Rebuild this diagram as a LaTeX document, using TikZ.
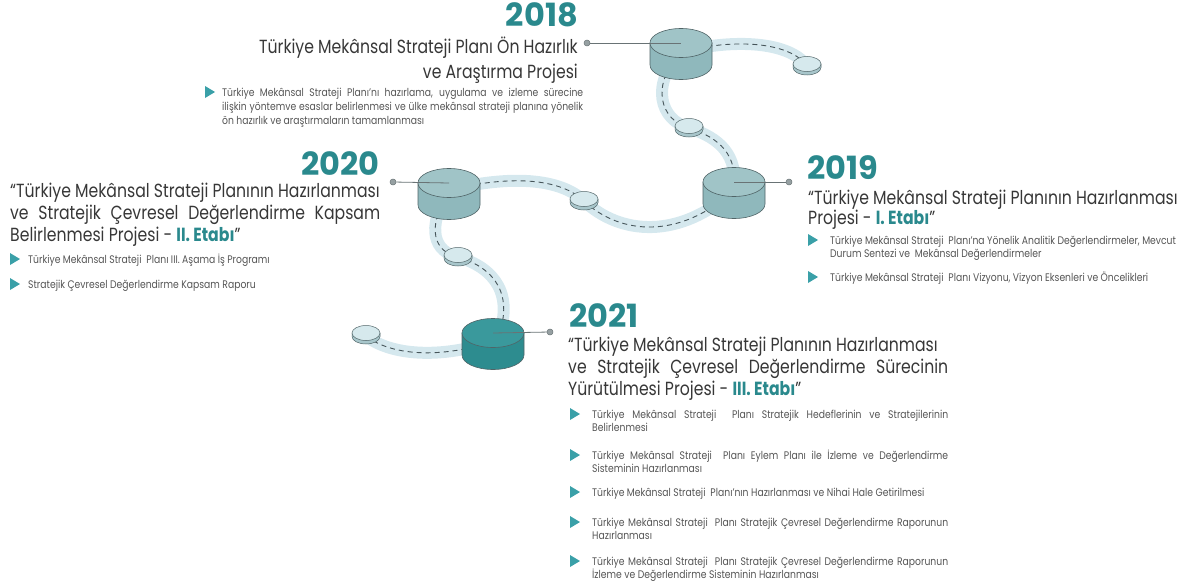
\documentclass[tikz,border=0pt]{standalone}
\usepackage{fontspec}
\setmainfont{Poppins}[FakeStretch=0.84]
\newfontfamily\titlefont{Poppins}[FakeStretch=0.825]
\newfontfamily\yearfont{Poppins}[FakeStretch=1.0]
\definecolor{tealtxt}{RGB}{42,137,141}
\definecolor{tric}{RGB}{58,160,168}
\definecolor{titlec}{RGB}{55,55,55}
\definecolor{bulc}{RGB}{85,85,85}
\definecolor{cyltop}{RGB}{160,196,199}
\definecolor{cylside}{RGB}{143,184,188}
\definecolor{cyltopd}{RGB}{58,153,156}
\definecolor{cylsided}{RGB}{45,140,143}
\definecolor{disctop}{RGB}{214,233,237}
\definecolor{discside}{RGB}{168,198,203}
\definecolor{cylline}{RGB}{80,100,103}
\definecolor{bandc}{RGB}{213,232,238}
\definecolor{dashcol}{RGB}{70,85,90}
\definecolor{connc}{RGB}{105,115,117}
\definecolor{dotc}{RGB}{150,160,162}
\newcommand\drawcyl[4]{%
  \filldraw[fill=#4, draw=cylline, line width=0.6pt] (#1-31,#2) -- (#1-31,#2+22)
    arc[start angle=180, end angle=360, x radius=31pt, y radius=14.5pt] -- (#1+31,#2) -- cycle;
  \filldraw[fill=#3, draw=cylline, line width=0.6pt] (#1,#2) ellipse [x radius=31pt, y radius=14.5pt];}
\newcommand\drawdisc[2]{%
  \filldraw[fill=discside, draw=cylline, line width=0.5pt] (#1-14,#2) -- (#1-14,#2+3.5)
    arc[start angle=180, end angle=360, x radius=14pt, y radius=7.5pt] -- (#1+14,#2) -- cycle;
  \filldraw[fill=disctop, draw=cylline, line width=0.5pt] (#1,#2) ellipse [x radius=14pt, y radius=7.5pt];}
\newcommand\btri[2]{\fill[tric] (#1,#2-6) -- (#1+10,#2) -- (#1,#2+6) -- cycle;}
\begin{document}
\begin{tikzpicture}[x=1pt,y=-1pt,
  band/.style={draw=bandc, line width=12pt, line cap=round},
  dashln/.style={draw=dashcol, line width=0.9pt, dash pattern=on 5pt off 4pt},
  conn/.style={draw=connc, line width=0.8pt},
  dotn/.style={circle, fill=dotc, draw=connc, line width=0.5pt, inner sep=0pt, minimum size=6pt},
  yr/.style={font=\yearfont\fontsize{32}{32}\selectfont\bfseries, text=tealtxt, inner sep=0pt},
  ttl/.style={font=\titlefont\fontsize{19}{19}\selectfont, text=titlec, inner sep=0pt},
  bul/.style={font=\fontsize{11}{11}\selectfont, text=bulc, inner sep=0pt},
  hl/.style={text=tealtxt}]
\useasboundingbox (0,0) rectangle (1193,586);
% anchor coordinates
\coordinate (t18) at (681,43);  \coordinate (k18) at (681,52);
\coordinate (t19) at (734,182); \coordinate (k19) at (734,190);
\coordinate (t20) at (449,183); \coordinate (k20) at (449,190);
\coordinate (t21) at (493,333); \coordinate (k21) at (497,340);
\coordinate (s1) at (807,66); \coordinate (s2) at (689,128);
\coordinate (s3) at (584,201); \coordinate (s4) at (458,257);
\coordinate (s5) at (366,336);
% bands
\foreach \st in {band,dashln}{
  \draw[\st] (k18) .. controls (735,38) and (790,42) .. (s1);
  \draw[\st] (k18) .. controls (650,85) and (660,120) .. (s2);
  \draw[\st] (s2) .. controls (720,138) and (738,155) .. (k19);
  \draw[\st] (k19) .. controls (680,240) and (620,235) .. (s3);
  \draw[\st] (s3) .. controls (560,178) and (510,175) .. (k20);
  \draw[\st] (k20) .. controls (425,230) and (435,252) .. (s4);
  \draw[\st] (s4) .. controls (495,268) and (515,295) .. (k21);
  \draw[\st] (s5) .. controls (390,355) and (440,360) .. (k21);
}
% discs
\drawdisc{807}{64}
\drawdisc{689}{126}
\drawdisc{584}{199}
\drawdisc{458}{255}
\drawdisc{366}{333}
% cylinders
\drawcyl{681}{43}{cyltop}{cylside}
\drawcyl{734}{182}{cyltop}{cylside}
\drawcyl{449}{183}{cyltop}{cylside}
\drawcyl{493}{333}{cyltopd}{cylsided}
% connectors
\node[dotn] (d18) at (587,43) {};
\node[dotn] (d19) at (789,182) {};
\node[dotn] (d20) at (393,182) {};
\node[dotn] (d21) at (550,332) {};
\draw[conn] (d18) -- (t18);
\draw[conn] (d19) -- (t19);
\draw[conn] (d20) -- (t20);
\draw[conn] (d21) -- (t21);
% ---- 2018
\node[yr, anchor=base east] (y18) at (578,27) {2018};
\node[ttl, anchor=base east] (a18) at (578,53) {Türkiye Mekânsal Strateji Planı Ön Hazırlık};
\node[ttl, anchor=base east] (b18) at (578,78) {ve Araştırma Projesi};
\btri{205}{92}
\node[bul, anchor=base west] (p18a) at (222,96) {\makebox[361pt][s]{Türkiye Mekânsal Strateji Planı’nı hazırlama, uygulama ve izleme sürecine}};
\node[bul, anchor=base west] (p18b) at (222,110) {\makebox[361pt][s]{ilişkin yöntemve esaslar belirlenmesi ve ülke mekânsal strateji planına yönelik}};
\node[bul, anchor=base west] (p18c) at (222,124) {ön hazırlık ve araştırmaların tamamlanması};
% ---- 2019
\node[yr, anchor=base west] (y19) at (807,179) {2019};
\node[ttl, anchor=base west] (a19) at (808,204) {“Türkiye Mekânsal Strateji Planının Hazırlanması};
\node[ttl, anchor=base west] (b19) at (808,224) {Projesi - {\bfseries\color{tealtxt}I. Etabı}”};
\btri{808}{240}
\node[bul, anchor=base west] (p19a) at (830,244) {Türkiye Mekânsal Strateji \ Planı’na Yönelik Analitik Değerlendirmeler, Mevcut};
\node[bul, anchor=base west] (p19b) at (830,257) {Durum Sentezi ve \ Mekânsal Değerlendirmeler};
\btri{808}{277}
\node[bul, anchor=base west] (p19c) at (830,281) {Türkiye Mekânsal Strateji \ Planı Vizyonu, Vizyon Eksenleri ve Öncelikleri};
% ---- 2020
\node[yr, anchor=base east] (y20) at (380,175) {2020};
\node[ttl, anchor=base west] (a20) at (10,197) {“Türkiye Mekânsal Strateji Planının Hazırlanması};
\node[ttl, anchor=base west] (b20) at (10,219) {\makebox[370pt][s]{ve Stratejik Çevresel Değerlendirme Kapsam}};
\node[ttl, anchor=base west] (c20) at (10,241) {Belirlenmesi Projesi - {\bfseries\color{tealtxt}II. Etabı}”};
\btri{10}{259}
\node[bul, anchor=base west] (p20a) at (28,263) {Türkiye Mekânsal Strateji \ Planı III. Aşama İş Programı};
\btri{10}{284}
\node[bul, anchor=base west] (p20b) at (28,288) {Stratejik Çevresel Değerlendirme Kapsam Raporu};
% ---- 2021
\node[yr, anchor=base west] (y21) at (569,327) {2021};
\node[ttl, anchor=base west] (a21) at (568,351) {“Türkiye Mekânsal Strateji Planının Hazırlanması};
\node[ttl, anchor=base west] (b21) at (568,373) {\makebox[380pt][s]{ve Stratejik Çevresel Değerlendirme Sürecinin}};
\node[ttl, anchor=base west] (c21) at (568,395) {Yürütülmesi Projesi - {\bfseries\color{tealtxt}III. Etabı}”};
\btri{570}{414}
\node[bul, anchor=base west] (p21a) at (592,418) {\makebox[356pt][s]{Türkiye Mekânsal Strateji \ Planı Stratejik Hedeflerinin ve Stratejilerinin}};
\node[bul, anchor=base west] (p21b) at (592,431) {Belirlenmesi};
\btri{570}{455}
\node[bul, anchor=base west] (p21c) at (592,459) {\makebox[356pt][s]{Türkiye Mekânsal Strateji \ Planı Eylem Planı ile İzleme ve Değerlendirme}};
\node[bul, anchor=base west] (p21d) at (592,472) {Sisteminin Hazırlanması};
\btri{570}{492}
\node[bul, anchor=base west] (p21e) at (592,496) {Türkiye Mekânsal Strateji \ Planı’nın Hazırlanması ve Nihai Hale Getirilmesi};
\btri{570}{522}
\node[bul, anchor=base west] (p21f) at (592,526) {\makebox[356pt][s]{Türkiye Mekânsal Strateji \ Planı Stratejik Çevresel Değerlendirme Raporunun}};
\node[bul, anchor=base west] (p21g) at (592,539) {Hazırlanması};
\btri{570}{561}
\node[bul, anchor=base west] (p21h) at (592,565) {\makebox[356pt][s]{Türkiye Mekânsal Strateji \ Planı Stratejik Çevresel Değerlendirme Raporunun}};
\node[bul, anchor=base west] (p21i) at (592,578) {İzleme ve Değerlendirme Sisteminin Hazırlanması};
\end{tikzpicture}
\end{document}
